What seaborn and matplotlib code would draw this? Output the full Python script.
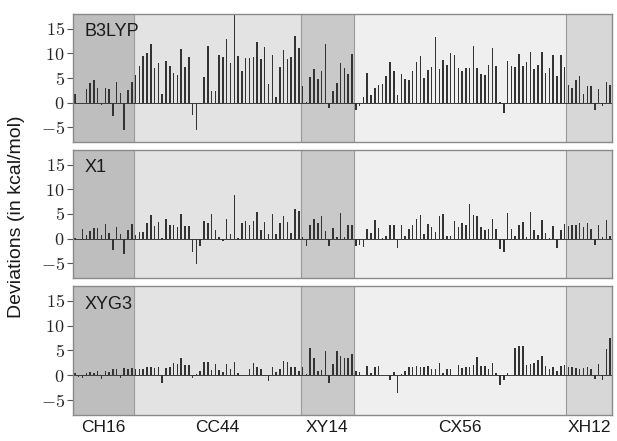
import matplotlib
matplotlib.use("Agg")
import matplotlib.pyplot as plt
import numpy as np
import pandas as pd
import seaborn as sns

sns.set_theme(style="white")
plt.rcParams["font.family"] = ["Liberation Sans", "DejaVu Sans"]
plt.rcParams["mathtext.fontset"] = "cm"

# Test-set blocks along the x axis
groups = ["CH16", "CC44", "XY14", "CX56", "XH12"]
group_sizes = [16, 44, 14, 56, 12]
group_shades = ["#bebebe", "#e3e3e3", "#c9c9c9", "#efefef", "#d7d7d7"]

# Deviations (kcal/mol), one value per molecule, in block order
b3lyp_ch16 = [1.8, -0.3, -0.2, 2.7, 3.9, 4.5, 2.9, -0.5, 3.0, 2.7, -2.7, 4.1, 1.9, -5.6, 2.5, 4.1]
b3lyp_cc44 = [5.7, 7.4, 9.5, 10.0, 12.0, 7.0, 8.0, 1.7, 8.4, 7.4, 6.0, 5.7, 10.8, 7.3, 9.3,
              -2.6, -5.6, -0.3, 5.2, 11.5, 2.3, 2.4, 9.6, 9.2, 13.0, 8.0, 19.0, 9.5, 6.5, 9.1,
              9.1, 9.3, 12.4, 8.8, 11.3, 3.7, 9.7, 1.1, 7.3, 10.7, 8.8, 9.2, 13.6, 11.0]
b3lyp_xy14 = [3.3, 0.1, 5.2, 6.8, 4.8, 6.4, 12.0, -1.1, 2.4, 4.0, 8.0, 7.0, 5.8, 9.8]
b3lyp_cx56 = [-1.5, -0.6, 1.1, 6.1, 1.5, 2.9, 3.6, 3.7, 5.5, 8.3, 6.5, 1.5, 5.9, 4.7, 4.6,
              6.5, 8.3, 9.5, 5.1, 6.7, 7.3, 13.3, 6.9, 8.7, 7.7, 10.1, 9.7, 7.0, 6.5, 7.1,
              7.1, 11.5, 7.1, 5.9, 5.7, 7.7, 11.1, 7.5, 0.1, -2.1, 8.5, 7.5, 7.3, 9.9, 7.4,
              8.3, 10.2, 6.8, 7.6, 10.2, 6.0, 7.1, 9.7, 5.4, 9.6, 7.3]
b3lyp_xh12 = [3.5, 2.9, 4.6, 5.4, 1.7, 3.3, 3.3, -1.6, 2.8, -0.6, 4.1, 3.5]

x1_ch16 = [0.2, -0.1, 1.9, 0.7, 1.6, 2.1, 2.1, 0.8, 2.9, 1.2, -2.3, 2.3, 0.9, -3.2, 1.7, 3.0]
x1_cc44 = [0.8, 1.3, 1.3, 3.2, 4.7, 2.6, 3.4, 0.1, 4.0, 2.8, 2.7, 2.3, 4.9, 2.6, 2.6,
           -2.8, -5.1, -1.5, 3.5, 3.2, 5.1, 1.7, 0.4, -0.4, 3.9, 0.9, 8.8, 0.1, 3.2, 3.5,
           2.8, 3.6, 5.4, 1.7, 3.4, 0.9, 4.9, 1.0, 3.2, 4.5, 3.4, 1.1, 6.1, 5.7]
x1_xy14 = [0.4, -1.5, 2.8, 3.9, 3.2, 4.5, 1.5, -1.5, 2.2, 0.4, 5.2, 0.4, 2.8, 2.8]
x1_cx56 = [-1.5, -1.3, -1.7, 2.0, 1.1, 3.7, 2.2, 0.2, 0.5, 2.7, 2.7, -2.0, 2.7, 0.5, 1.9,
           2.7, 4.0, 4.7, 0.9, 3.0, 2.3, 1.3, 4.5, 5.0, 0.5, 0.5, 3.5, 2.4, 3.1, 2.8,
           7.0, 4.8, 4.5, 2.4, 1.7, 1.9, 4.0, 2.0, -2.1, -2.7, 5.2, 2.0, 0.5, 2.7, 3.4,
           0.4, 5.4, 1.7, 0.8, 3.7, 1.2, 0.1, 2.6, -2.0, 1.7, 2.9]
x1_xh12 = [2.6, 2.8, 2.8, 3.1, 2.3, 3.1, 1.9, -1.2, 2.8, 0.4, 3.8, 0.5]

xyg3_ch16 = [0.4, -0.3, -0.5, 0.4, 0.7, 0.4, 0.8, -0.7, 0.9, 0.7, 1.2, 1.3, -0.5, 1.5, 1.3, 1.5]
xyg3_cc44 = [1.2, 1.3, 1.2, 1.7, 1.7, 1.5, 1.6, -1.5, 1.5, 1.7, 2.4, 2.3, 3.4, 2.1, 2.1,
             -0.5, 0.2, 0.8, 2.6, 2.6, 1.1, 2.3, 1.1, 0.7, 2.3, 1.2, 2.7, 0.4, 0.0, 0.0,
             1.3, 2.4, 1.6, 1.2, -0.1, -1.2, 1.7, 0.7, 1.3, 2.8, 2.6, 1.7, 1.6, 0.9]
xyg3_xy14 = [1.6, 0.2, 5.5, 3.5, 0.9, 1.1, 4.8, -1.6, 2.3, 4.8, 3.9, 3.5, 3.5, 4.3]
xyg3_cx56 = [0.9, 0.7, 0.1, 1.9, 0.5, 1.7, 1.9, 0.1, 0.0, -0.9, 0.7, -3.5, 0.3, 0.8, 1.6,
             1.7, 1.9, 1.6, 1.6, 1.9, 1.2, 1.3, 2.5, 0.5, 1.2, 1.2, 0.1, 2.1, 1.5, 1.6,
             1.7, 2.0, 3.6, 1.9, 1.9, 1.3, 2.5, 0.5, -1.9, -0.9, 0.4, 0.1, 5.5, 6.0, 5.9,
             2.0, 2.3, 2.5, 3.1, 3.8, 1.9, 1.3, 1.6, 0.9, 1.9, 2.0]
xyg3_xh12 = [1.7, 1.6, 1.5, 1.3, 1.5, 1.7, 1.2, -0.7, 2.3, -1.0, 5.4, 7.6]

methods = ["B3LYP", "X1", "XYG3"]
series = {
    "B3LYP": b3lyp_ch16 + b3lyp_cc44 + b3lyp_xy14 + b3lyp_cx56 + b3lyp_xh12,
    "X1": x1_ch16 + x1_cc44 + x1_xy14 + x1_cx56 + x1_xh12,
    "XYG3": xyg3_ch16 + xyg3_cc44 + xyg3_xy14 + xyg3_cx56 + xyg3_xh12,
}

yticks = [-5, 0, 5, 10, 15]
ytick_labels = [r"$-5$", r"$0$", r"$5$", r"$10$", r"$15$"]

n = sum(group_sizes)
edges = np.concatenate([[0], np.cumsum(group_sizes)]) - 0.5

W, H = 617, 441
fig = plt.figure(figsize=(W / 100, H / 100), dpi=100)
panel_px = [(14, 142), (150, 278), (286, 415)]
left_px, right_px = 73, 612

axes = []
for method, (top, bottom) in zip(methods, panel_px):
    ax = fig.add_axes([left_px / W, 1 - bottom / H, (right_px - left_px) / W, (bottom - top) / H])
    df = pd.DataFrame({"idx": np.arange(n), "dev": series[method]})
    for lo, hi, shade in zip(edges[:-1], edges[1:], group_shades):
        ax.axvspan(lo, hi, color=shade, lw=0, zorder=0)
    for e in edges[1:-1]:
        ax.axvline(e, color="#9a9a9a", lw=0.8, zorder=0.5)
    ax.axhline(0, color="#3a3a3a", lw=0.7, zorder=1)
    sns.barplot(data=df, x="idx", y="dev", native_scale=True, color="#333333",
                saturation=1, width=0.4, linewidth=0, edgecolor="none", ax=ax, zorder=2)
    ax.set_xlim(-0.5, n - 0.5)
    ax.set_ylim(-8, 18)
    ax.set_xticks([])
    ax.set_xlabel("")
    ax.set_ylabel("")
    ax.set_yticks(yticks)
    ax.set_yticklabels(ytick_labels, fontsize=13)
    ax.tick_params(axis="y", left=True, length=4, width=0.8, color="#555555", pad=2)
    for sp in ax.spines.values():
        sp.set_color("#8a8a8a")
        sp.set_linewidth(1.0)
    ax.text(0.022, 0.86, method, transform=ax.transAxes, fontsize=13,
            ha="left", va="center", color="#1a1a1a")
    axes.append(ax)

# Block names under the bottom panel
centers = (edges[:-1] + edges[1:]) / 2
for c, g in zip(centers, groups):
    axes[-1].text(c, -10.6, g, ha="center", va="center", fontsize=12.5, color="#1a1a1a",
                  clip_on=False)

fig.text(17 / W, 1 - 217 / H, "Deviations (in kcal/mol)", rotation=90,
         ha="center", va="center", fontsize=14, color="#1a1a1a")

fig.savefig("out.png", dpi=100)
